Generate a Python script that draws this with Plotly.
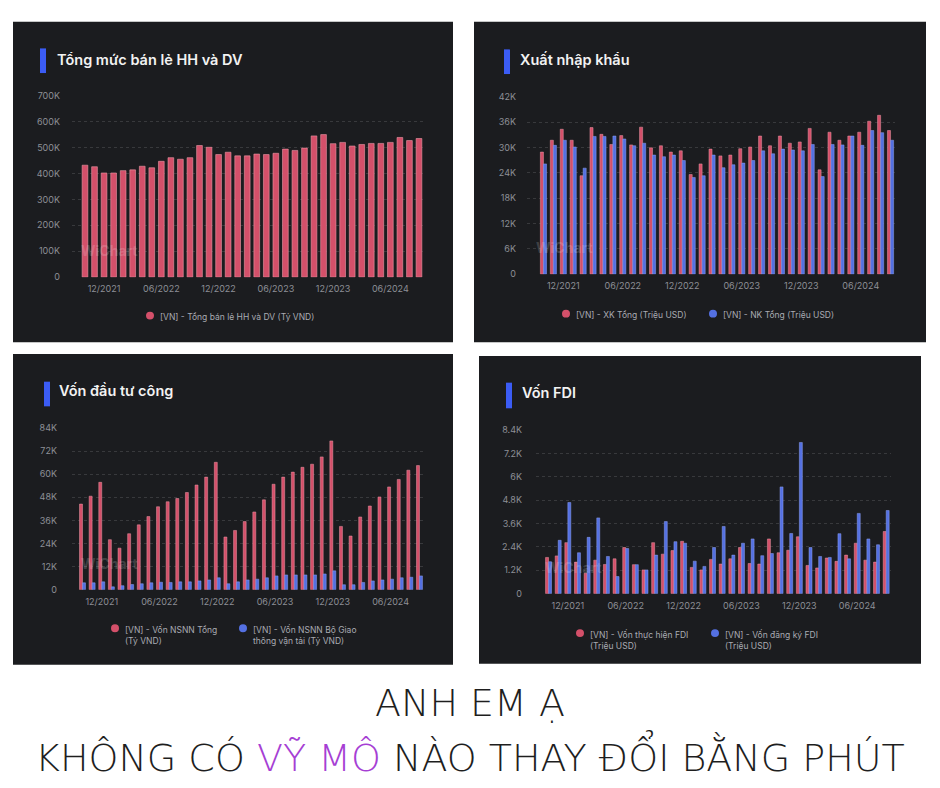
import plotly.graph_objects as go

W, H = 940, 788

# ---------------- data ----------------
months = ["10/2021", "11/2021", "12/2021", "01/2022", "02/2022", "03/2022", "04/2022", "05/2022", "06/2022",
          "07/2022", "08/2022", "09/2022", "10/2022", "11/2022", "12/2022", "01/2023", "02/2023", "03/2023",
          "04/2023", "05/2023", "06/2023", "07/2023", "08/2023", "09/2023", "10/2023", "11/2023", "12/2023",
          "01/2024", "02/2024", "03/2024", "04/2024", "05/2024", "06/2024", "07/2024", "08/2024", "09/2024"]
x_ticks = ["12/2021", "06/2022", "12/2022", "06/2023", "12/2023", "06/2024"]

retail = [432, 426, 402, 402, 411, 414, 428, 422, 447, 461, 455, 461, 508, 501, 473, 482, 468, 468,
          475, 473, 478, 494, 489, 498, 545, 550, 515, 520, 506, 512, 516, 516, 520, 539, 527, 535]  # thousand bn VND

export = [28.9, 31.7, 34.3, 31.7, 23.3, 34.7, 33.1, 30.7, 32.8, 30.6, 34.8, 29.9, 30.4, 28.9, 29.2, 23.6, 26.1, 29.6,
          28.0, 28.2, 29.7, 30.1, 32.7, 30.4, 32.7, 31.0, 31.3, 34.5, 24.7, 33.6, 31.7, 32.7, 33.6, 36.2, 37.6, 34.0]
imports = [26.1, 30.5, 31.7, 30.1, 25.1, 32.6, 32.6, 32.7, 32.0, 30.4, 31.0, 28.2, 27.8, 28.2, 26.9, 22.9, 23.3, 28.2,
           25.2, 25.9, 26.3, 26.9, 29.2, 28.5, 29.6, 29.4, 29.2, 30.7, 23.1, 30.7, 30.6, 32.7, 30.5, 34.0, 33.5, 31.7]

invest_total = [44.5, 48.6, 55.8, 26.0, 21.6, 29.1, 33.7, 38.0, 43.1, 45.7, 47.4, 50.5, 54.4, 58.5, 66.2, 27.4, 30.8, 35.4,
                40.4, 46.7, 54.8, 58.5, 61.1, 63.6, 65.2, 69.0, 77.3, 32.9, 27.9, 37.8, 43.5, 48.2, 53.4, 57.3, 62.1, 64.5]
invest_transport = [3.6, 3.6, 4.1, 1.5, 2.1, 2.7, 3.1, 3.6, 3.9, 3.8, 4.1, 4.1, 4.6, 5.1, 6.2, 3.1, 4.1, 5.1,
                    5.5, 6.2, 7.2, 7.7, 7.7, 7.7, 7.7, 8.2, 9.8, 2.6, 2.6, 3.8, 4.6, 5.1, 5.5, 6.2, 6.5, 7.2]

fdi_disbursed = [1.86, 1.94, 2.62, 1.62, 1.05, 1.72, 1.50, 1.79, 2.37, 1.49, 1.22, 2.62, 2.03, 2.21, 2.69, 1.35, 1.22, 1.76,
                 1.52, 1.79, 2.37, 1.55, 1.52, 2.81, 2.10, 2.23, 2.92, 1.45, 1.32, 1.83, 1.66, 1.98, 2.59, 1.72, 1.62, 3.19]
fdi_registered = [1.64, 2.74, 4.68, 2.10, 2.89, 3.89, 1.91, 0.88, 2.32, 1.49, 1.22, 1.98, 3.70, 2.67, 2.59, 1.67, 1.40, 2.37,
                  3.45, 1.98, 2.59, 2.81, 1.95, 2.06, 5.48, 3.09, 7.76, 2.37, 1.91, 1.86, 3.08, 1.79, 4.12, 2.81, 2.51, 4.27]

y1_vals = [0, 100, 200, 300, 400, 500, 600, 700]
y1_text = ["0", "100K", "200K", "300K", "400K", "500K", "600K", "700K"]
y2_vals = [0, 6, 12, 18, 24, 30, 36, 42]
y2_text = ["0", "6K", "12K", "18K", "24K", "30K", "36K", "42K"]
y3_vals = [0, 12, 24, 36, 48, 60, 72, 84]
y3_text = ["0", "12K", "24K", "36K", "48K", "60K", "72K", "84K"]
y4_vals = [0, 1.2, 2.4, 3.6, 4.8, 6.0, 7.2, 8.4]
y4_text = ["0", "1.2K", "2.4K", "3.6K", "4.8K", "6K", "7.2K", "8.4K"]

titles = ["Tổng mức bán lẻ HH và DV", "Xuất nhập khẩu", "Vốn đầu tư công", "Vốn FDI"]

# ---------------- style ----------------
RED = "#d4506a"
RED_LINE = "#ec98a6"
BLUE = "#5470e2"
BLUE_LINE = "#8ea3f2"
PANEL = "#1b1c1f"
ACCENT = "#3b5cf5"
TICK = "#8d8f96"
LEG = "#a9abb2"
GRID = "rgba(255,255,255,0.13)"


def X(px):
    return px / W


def Y(py):
    return 1 - py / H


fig = go.Figure()

# Panel 1
fig.add_trace(go.Bar(x=months, y=retail, marker=dict(color=RED, line=dict(color=RED_LINE, width=0.6)),
                     width=0.6, xaxis="x", yaxis="y", showlegend=False))
# Panel 2
fig.add_trace(go.Bar(x=months, y=export, marker=dict(color=RED, line=dict(color=RED_LINE, width=0.5)),
                     width=0.31, offset=-0.31, xaxis="x2", yaxis="y2", showlegend=False))
fig.add_trace(go.Bar(x=months, y=imports, marker=dict(color=BLUE, line=dict(color=BLUE_LINE, width=0.5)),
                     width=0.31, offset=0.0, xaxis="x2", yaxis="y2", showlegend=False))
# Panel 3
fig.add_trace(go.Bar(x=months, y=invest_total, marker=dict(color=RED, line=dict(color=RED_LINE, width=0.5)),
                     width=0.31, offset=-0.31, xaxis="x3", yaxis="y3", showlegend=False))
fig.add_trace(go.Bar(x=months, y=invest_transport, marker=dict(color=BLUE, line=dict(color=BLUE_LINE, width=0.5)),
                     width=0.31, offset=0.0, xaxis="x3", yaxis="y3", showlegend=False))
# Panel 4
fig.add_trace(go.Bar(x=months, y=fdi_disbursed, marker=dict(color=RED, line=dict(color=RED_LINE, width=0.5)),
                     width=0.31, offset=-0.31, xaxis="x4", yaxis="y4", showlegend=False))
fig.add_trace(go.Bar(x=months, y=fdi_registered, marker=dict(color=BLUE, line=dict(color=BLUE_LINE, width=0.5)),
                     width=0.31, offset=0.0, xaxis="x4", yaxis="y4", showlegend=False))

# panel geometry (pixels)
panels = [
    dict(box=(13, 16, 453, 341), xdom=(72, 425), xr=(-1.36, 35.63), ydom=(91, 275), yr=(0, 700),
         yv=y1_vals, yt=y1_text, ystand=11, accent=(40, 43, 46, 68), title=(55, 54)),
    dict(box=(474, 16, 926, 341), xdom=(527, 895), xr=(-1.66, 35.45), ydom=(92, 272), yr=(0, 42),
         yv=y2_vals, yt=y2_text, ystand=10, accent=(504, 44, 510, 69), title=(518, 54)),
    dict(box=(13, 353, 453, 668), xdom=(72, 424), xr=(-1.09, 35.47), ydom=(428, 592), yr=(0, 84),
         yv=y3_vals, yt=y3_text, ystand=14, accent=(44, 381, 50, 406), title=(57, 390)),
    dict(box=(479, 355, 921, 667), xdom=(536, 891), xr=(-1.30, 35.5), ydom=(430, 596), yr=(0, 8.4),
         yv=y4_vals, yt=y4_text, ystand=13, accent=(506, 382, 512, 408), title=(520, 392)),
]

shapes = []
annotations = []
layout_axes = {}
for i, p in enumerate(panels):
    k = "" if i == 0 else str(i + 1)
    bx0, by0, bx1, by1 = p["box"]
    shapes.append(dict(type="rect", xref="paper", yref="paper", x0=X(bx0), x1=X(bx1), y0=Y(by1), y1=Y(by0),
                       fillcolor=PANEL, line=dict(width=0), layer="below"))
    ax0, ay0, ax1, ay1 = p["accent"]
    shapes.append(dict(type="rect", xref="paper", yref="paper", x0=X(ax0), x1=X(ax1), y0=Y(ay1), y1=Y(ay0),
                       fillcolor=ACCENT, line=dict(width=0), layer="above"))
    annotations.append(dict(text=titles[i], xref="paper", yref="paper", x=X(p["title"][0]), y=Y(p["title"][1]),
                            xanchor="left", yanchor="middle", showarrow=False,
                            font=dict(family="Inter", size=14.5, color="#f2f2f2", weight=600)))
    layout_axes["xaxis" + k] = dict(domain=[X(p["xdom"][0]), X(p["xdom"][1])], range=list(p["xr"]),
                                    anchor="y" + k, type="category", categoryorder="array", categoryarray=months,
                                    tickmode="array", tickvals=x_ticks, ticktext=x_ticks,
                                    showgrid=False, showline=False, zeroline=False, ticks="",
                                    ticklabelstandoff=5,
                                    tickfont=dict(family="Inter", size=9, color=TICK))
    layout_axes["yaxis" + k] = dict(domain=[Y(p["ydom"][1]), Y(p["ydom"][0])], range=list(p["yr"]),
                                    anchor="x" + k, tickmode="array", tickvals=p["yv"], ticktext=p["yt"],
                                    showgrid=True, gridcolor=GRID, griddash="dot", gridwidth=1,
                                    zeroline=False, showline=False, ticks="",
                                    ticklabelstandoff=p["ystand"],
                                    tickfont=dict(family="Inter", size=9, color=TICK))
    # watermark
    wx = p["xdom"][0] + 7
    wy = p["ydom"][1] - 27
    annotations.append(dict(text="<b>WiChart</b>", xref="paper", yref="paper", x=X(wx), y=Y(wy),
                            xanchor="left", yanchor="middle", showarrow=False,
                            font=dict(family="Inter", size=14, color="rgba(255,255,255,0.18)")))

# legends
legend_items = [
    (150, 314, RED, "[VN] - Tổng bán lẻ HH và DV (Tỷ VND)"),
    (566, 312, RED, "[VN] - XK Tổng (Triệu USD)"),
    (713, 312, BLUE, "[VN] - NK Tổng (Triệu USD)"),
    (115, 631, RED, "[VN] - Vốn NSNN Tổng<br>(Tỷ VND)"),
    (243, 631, BLUE, "[VN] - Vốn NSNN Bộ Giao<br>thông vận tải (Tỷ VND)"),
    (580, 636, RED, "[VN] - Vốn thực hiện FDI<br>(Triệu USD)"),
    (715, 636, BLUE, "[VN] - Vốn đăng ký FDI<br>(Triệu USD)"),
]
for cx, cy, col, txt in legend_items:
    r = 4
    shapes.append(dict(type="circle", xref="paper", yref="paper", x0=X(cx - r), x1=X(cx + r),
                       y0=Y(cy + r), y1=Y(cy - r), fillcolor=col, line=dict(width=0), layer="above"))
    annotations.append(dict(text=txt, xref="paper", yref="paper", x=X(cx + 8), y=Y(cy - 6),
                            xanchor="left", yanchor="top", align="left", showarrow=False,
                            font=dict(family="Inter", size=8.5, color=LEG)))

# bottom caption
CAP_FONT = dict(family="DejaVu Sans", size=38, color="#1e1e1e", weight=200)
annotations.append(dict(text="ANH EM Ạ", xref="paper", yref="paper", x=0.5, y=Y(707),
                        xanchor="center", yanchor="middle", showarrow=False, font=CAP_FONT))
annotations.append(dict(text="KHÔNG CÓ <span style='color:#a63fd4'>VỸ MÔ</span> NÀO THAY ĐỔI BẰNG PHÚT",
                        xref="paper", yref="paper", x=0.5, y=Y(759),
                        xanchor="center", yanchor="middle", showarrow=False, font=CAP_FONT))

fig.update_layout(width=W, height=H, margin=dict(l=0, r=0, t=0, b=0),
                  paper_bgcolor="white", plot_bgcolor="rgba(0,0,0,0)",
                  barmode="overlay", bargap=0.4, showlegend=False,
                  shapes=shapes, annotations=annotations, **layout_axes)

fig.write_html("out.html")
